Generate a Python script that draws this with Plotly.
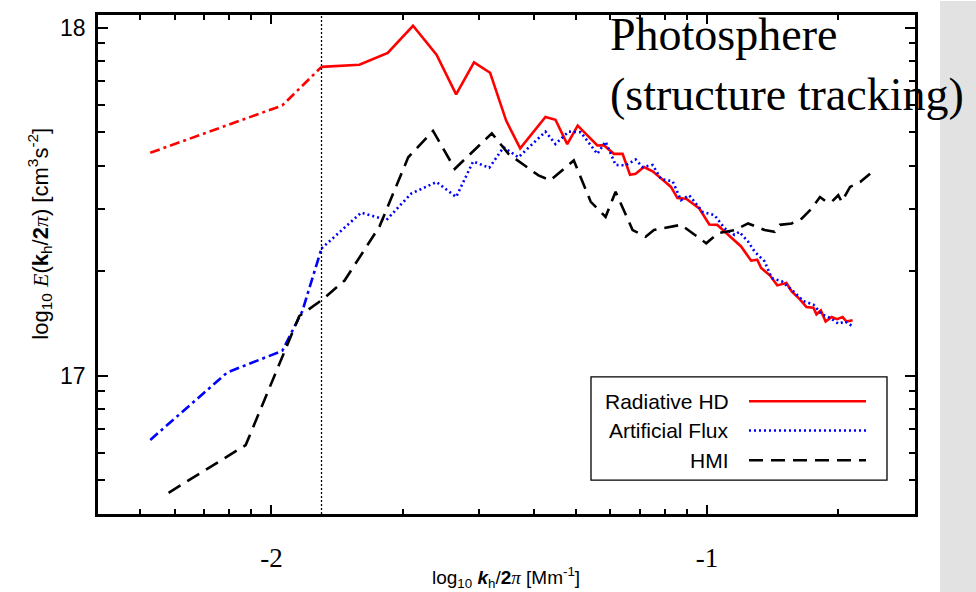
import numpy as np
import plotly.graph_objects as go

# ---------------- data (log10 values) ----------------
cutoff_x = -1.885

red_x = [-2.278, -1.975, -1.885, -1.798, -1.733, -1.675, -1.621, -1.576, -1.535, -1.498,
         -1.461, -1.429, -1.371, -1.348, -1.321, -1.297, -1.252, -1.237, -1.214, -1.194,
         -1.177, -1.164, -1.145, -1.125, -1.098, -1.083, -1.068, -1.048, -1.018, -0.995,
         -0.977, -0.964, -0.945, -0.922, -0.899, -0.885, -0.876, -0.856, -0.839, -0.818,
         -0.806, -0.787, -0.772, -0.756, -0.749, -0.739, -0.728, -0.714, -0.702, -0.689,
         -0.680, -0.666]
red_y = [17.640, 17.776, 17.887, 17.893, 17.927, 18.005, 17.922, 17.808, 17.900, 17.870,
         17.732, 17.653, 17.743, 17.735, 17.665, 17.718, 17.661, 17.662, 17.637, 17.637,
         17.577, 17.580, 17.599, 17.587, 17.558, 17.542, 17.510, 17.508, 17.480, 17.434,
         17.433, 17.418, 17.399, 17.371, 17.330, 17.333, 17.309, 17.288, 17.259, 17.266,
         17.242, 17.219, 17.197, 17.195, 17.176, 17.187, 17.155, 17.168, 17.162, 17.168,
         17.155, 17.159]

blue_x = [-2.278, -2.101, -1.975, -1.929, -1.885, -1.794, -1.736, -1.679, -1.621, -1.576,
          -1.537, -1.500, -1.467, -1.433, -1.371, -1.348, -1.318, -1.290, -1.252, -1.233,
          -1.210, -1.187, -1.164, -1.148, -1.125, -1.106, -1.079, -1.060, -1.041, -1.010,
          -0.983, -0.960, -0.937, -0.926, -0.906, -0.891, -0.868, -0.852, -0.829, -0.806,
          -0.779, -0.756, -0.737, -0.718, -0.699, -0.683, -0.668]
blue_y = [16.815, 17.009, 17.071, 17.185, 17.365, 17.468, 17.447, 17.523, 17.556, 17.513,
          17.615, 17.597, 17.656, 17.627, 17.701, 17.665, 17.701, 17.699, 17.637, 17.672,
          17.605, 17.604, 17.621, 17.599, 17.605, 17.565, 17.558, 17.504, 17.518, 17.470,
          17.461, 17.423, 17.404, 17.413, 17.385, 17.356, 17.328, 17.280, 17.271, 17.247,
          17.214, 17.204, 17.176, 17.166, 17.149, 17.155, 17.143]

hmi_x = [-2.236, -2.059, -1.936, -1.882, -1.832, -1.752, -1.686, -1.629, -1.579, -1.494,
         -1.456, -1.387, -1.360, -1.306, -1.267, -1.233, -1.210, -1.171, -1.141, -1.122,
         -1.060, -1.033, -1.002, -0.975, -0.937, -0.906, -0.868, -0.845, -0.833, -0.806,
         -0.783, -0.760, -0.741, -0.726, -0.714, -0.699, -0.691, -0.672, -0.649, -0.626]
hmi_y = [16.663, 16.800, 17.171, 17.219, 17.273, 17.428, 17.627, 17.703, 17.594, 17.696,
         17.637, 17.575, 17.561, 17.618, 17.499, 17.456, 17.528, 17.418, 17.399, 17.418,
         17.433, 17.409, 17.380, 17.409, 17.418, 17.437, 17.418, 17.413, 17.433, 17.437,
         17.451, 17.480, 17.513, 17.499, 17.499, 17.518, 17.499, 17.542, 17.556, 17.580]

series_names = ["Radiative HD", "Artificial Flux", "HMI"]

x_range = [np.log10(0.004), np.log10(0.3)]
y_range = [np.log10(4e16), 18.036]
x_major = [-2, -1]
x_major_text = ["-2", "-1"]
y_major = [17, 18]
y_major_text = ["17", "18"]
x_minor = [np.log10(k * 1e-3) for k in range(4, 10)] + \
          [np.log10(k * 1e-2) for k in range(2, 10)] + [np.log10(2e-1)]
y_minor = [np.log10(k * 1e16) for k in range(5, 10)] + \
          [np.log10(k * 1e17) for k in range(2, 10)]

# ---------------- styles ----------------
RED, BLUE, BLACK = "#ff0000", "#0000ff", "#000000"
SANS = "Liberation Sans, Arial, sans-serif"
SERIF = "Liberation Serif, Times New Roman, serif"
LW = 2.6
dashdot = "10px,4px,3px,4px"
dotted = "2px,3px"
dashed = "14px,8px"


def split(x, y, cut):
    x = np.asarray(x); y = np.asarray(y)
    lo = x <= cut + 1e-9
    hi = x >= cut - 1e-9
    return (x[lo], y[lo]), (x[hi], y[hi])


fig = go.Figure()

(rlx, rly), (rhx, rhy) = split(red_x, red_y, cutoff_x)
(blx, bly), (bhx, bhy) = split(blue_x, blue_y, cutoff_x)

fig.add_trace(go.Scatter(x=rlx, y=rly, mode="lines", showlegend=False,
                         line=dict(color=RED, width=LW, dash=dashdot)))
fig.add_trace(go.Scatter(x=rhx, y=rhy, mode="lines", name=series_names[0], showlegend=False,
                         line=dict(color=RED, width=LW)))
fig.add_trace(go.Scatter(x=blx, y=bly, mode="lines", showlegend=False,
                         line=dict(color=BLUE, width=LW, dash=dashdot)))
fig.add_trace(go.Scatter(x=bhx, y=bhy, mode="lines", name=series_names[1], showlegend=False,
                         line=dict(color=BLUE, width=LW, dash=dotted)))
fig.add_trace(go.Scatter(x=hmi_x, y=hmi_y, mode="lines", name=series_names[2], showlegend=False,
                         line=dict(color=BLACK, width=LW, dash=dashed)))
# vertical cutoff line, drawn on the overlay axes (same ranges)
fig.add_trace(go.Scatter(x=[cutoff_x, cutoff_x], y=y_range, mode="lines", showlegend=False,
                         xaxis="x2", yaxis="y2",
                         line=dict(color=BLACK, width=1.3, dash="2px,2px")))

# ---------------- layout ----------------
L, R, T, B = 98, 61, 12, 78
W, H = 976, 592
pw, ph = W - L - R, H - T - B


def px(xp):
    return (xp - L) / pw


def py(yp):
    return (H - B - yp) / ph


axis_common = dict(showgrid=False, zeroline=False, ticks="inside", tickcolor="black")
fig.update_layout(
    width=W, height=H,
    margin=dict(l=L, r=R, t=T, b=B),
    plot_bgcolor="white", paper_bgcolor="white",
    xaxis=dict(range=x_range, tickmode="array", tickvals=x_major, ticktext=x_major_text,
               ticklen=9, tickwidth=2, showline=True, linecolor="black", linewidth=2.5,
               mirror="allticks", tickfont=dict(family=SERIF, size=27, color="black"),
               ticklabelstandoff=18, **axis_common),
    yaxis=dict(range=y_range, tickmode="array", tickvals=y_major, ticktext=y_major_text,
               ticklen=10, tickwidth=2, showline=True, linecolor="black", linewidth=2.5,
               mirror="allticks", tickfont=dict(family=SANS, size=23, color="black"),
               ticklabelstandoff=5, **axis_common),
    xaxis2=dict(range=x_range, overlaying="x", anchor="y", side="bottom", tickmode="array",
                tickvals=x_minor, ticklen=5, tickwidth=2, showticklabels=False,
                mirror="allticks", showline=False, **axis_common),
    yaxis2=dict(range=y_range, overlaying="y", anchor="x", side="left", tickmode="array",
                tickvals=y_minor, ticklen=6.5, tickwidth=2, showticklabels=False,
                mirror="allticks", showline=False, **axis_common),
    showlegend=False,
)

# background strip at the right edge
fig.add_shape(type="rect", xref="paper", yref="paper", x0=px(940), x1=px(W + 2),
              y0=py(H + 2), y1=py(-2), fillcolor="#e2e2e2", line=dict(width=0), layer="below")

annotations = []
# axis titles
annotations.append(dict(
    text="log<sub>10</sub> <span style='font-family:Liberation Serif'><i>E</i></span>(<b>k</b><sub>h</sub>/<b>2</b><span style='font-family:Liberation Serif'><i>π</i></span>) [cm<sup>3</sup>s<sup>-2</sup>]",
    xref="paper", yref="paper", x=px(40), y=py(232), textangle=-90, showarrow=False,
    font=dict(family=SANS, size=22, color="black"), xanchor="center", yanchor="middle"))
annotations.append(dict(
    text="log<sub>10</sub> <b><i>k</i></b><sub>h</sub>/<b>2</b><span style='font-family:Liberation Serif'><i>π</i></span> [Mm<sup>-1</sup>]",
    xref="paper", yref="paper", x=px(506), y=py(578), showarrow=False,
    font=dict(family=SANS, size=19, color="black"), xanchor="center", yanchor="middle"))
# panel label
annotations.append(dict(
    text="Photosphere<br>(structure tracking)", xref="paper", yref="paper",
    x=px(608), y=py(4), xanchor="left", yanchor="top", align="left", showarrow=False,
    font=dict(family=SERIF, size=46, color="black")))

# custom legend (text left of the line sample)
fig.add_shape(type="rect", xref="paper", yref="paper", x0=px(591), x1=px(887),
              y0=py(480), y1=py(376), line=dict(color="black", width=1.3), fillcolor="white")
leg_rows = [400.5, 430, 460]
leg_styles = [dict(color=RED, width=LW), dict(color=BLUE, width=LW, dash=dotted),
              dict(color=BLACK, width=LW, dash=dashed)]
for name, yy, st in zip(series_names, leg_rows, leg_styles):
    annotations.append(dict(text=name, xref="paper", yref="paper", x=px(731), y=py(yy),
                            xanchor="right", yanchor="middle", showarrow=False,
                            font=dict(family=SANS, size=21, color="black")))
    fig.add_shape(type="line", xref="paper", yref="paper", x0=px(749), x1=px(866),
                  y0=py(yy), y1=py(yy), line=st)

fig.update_layout(annotations=annotations)

fig.write_html("out.html")
